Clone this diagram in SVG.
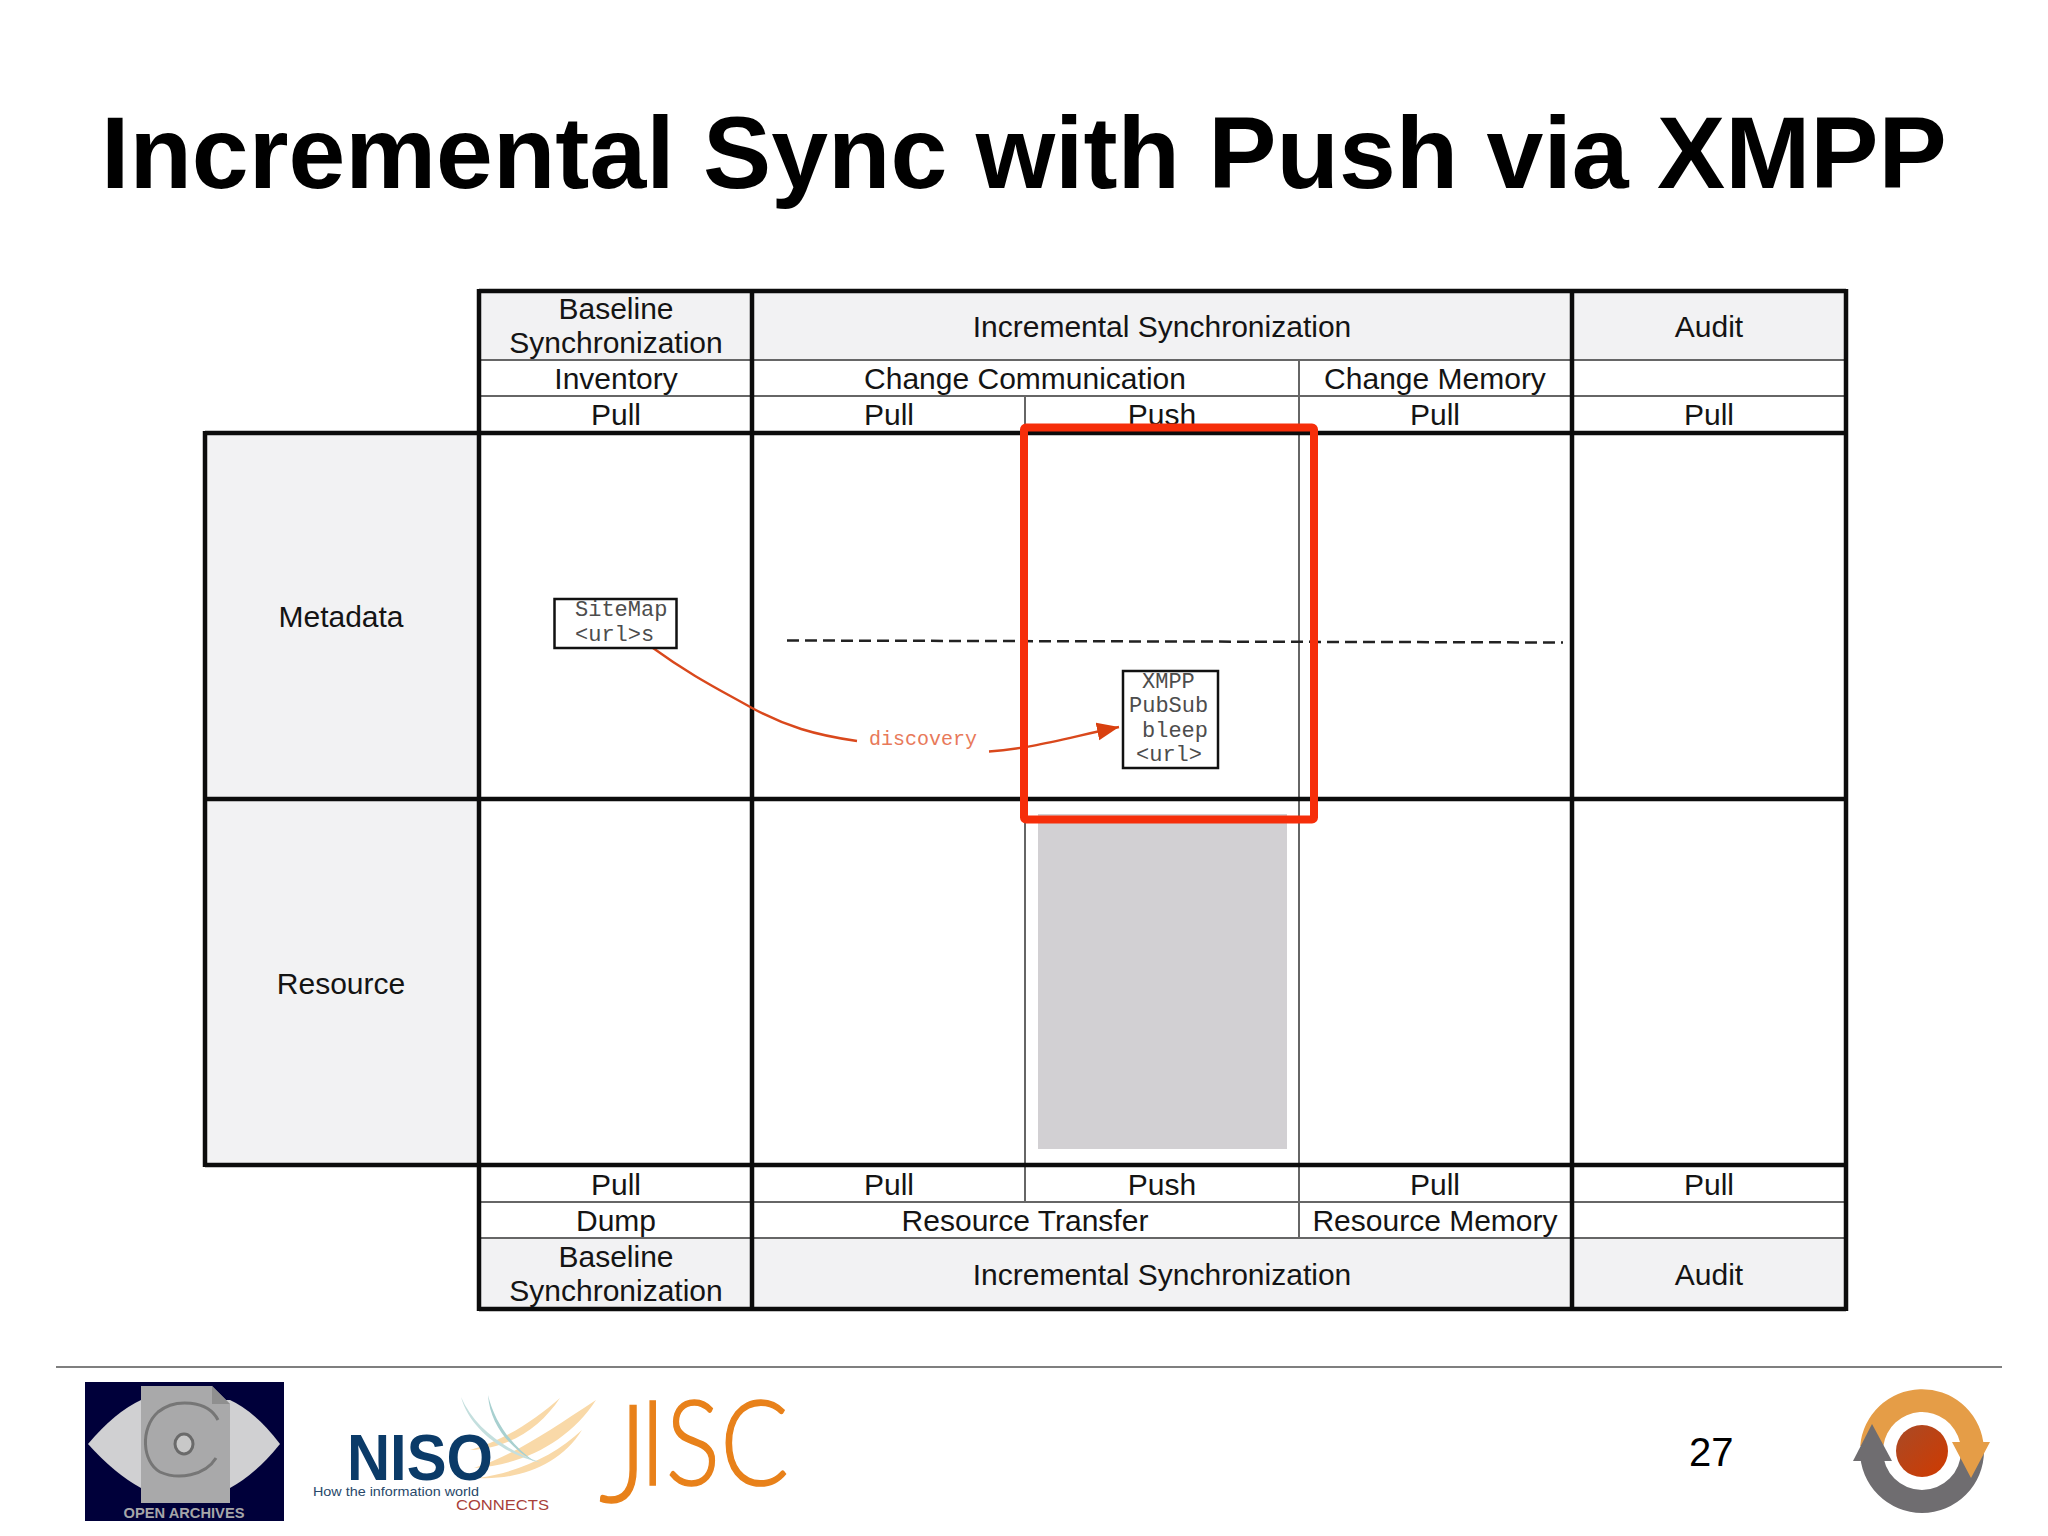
<svg xmlns="http://www.w3.org/2000/svg" width="2048" height="1536" viewBox="0 0 2048 1536">
<defs>
<style>
.t{font-family:"Liberation Sans",Arial,sans-serif;font-size:30px;fill:#141414;text-anchor:middle}
.m{font-family:"Liberation Mono","Courier New",monospace;font-size:22px;fill:#4d4d4d}
.thick{stroke:#0c0c0c;stroke-width:4.5;fill:none}
.thin{stroke:#666;stroke-width:2;fill:none}
.shade{fill:#f2f2f3}
.box{fill:#fff;stroke:#111;stroke-width:2.5}
.cur{fill:none;stroke:#d9481c;stroke-width:2.4}
</style>
<marker id="ah" markerUnits="userSpaceOnUse" markerWidth="24" markerHeight="20" refX="22" refY="10" orient="auto"><path d="M0,1 L22,10 L0,19 Z" fill="#d9400f"/></marker>
<linearGradient id="rg" x1="0" y1="0" x2="1" y2="1"><stop offset="0" stop-color="#a94a26"/><stop offset="1" stop-color="#d03a00"/></linearGradient>
</defs>
<rect width="2048" height="1536" fill="#fff"/>
<text x="101" y="188" style="font-family:'Liberation Sans',Arial,sans-serif;font-size:102.2px;font-weight:bold;fill:#000">Incremental Sync with Push via XMPP</text>

<g id="table-shading">
<rect class="shade" x="479" y="291" width="1367" height="69"/>
<rect class="shade" x="205" y="433" width="274" height="732"/>
<rect class="shade" x="479" y="1238" width="1367" height="71"/>
<rect x="1038" y="814" width="249" height="335" fill="#d2d0d3"/>
</g>
<g id="table-grid">
<path class="thin" d="M479 360H1846M479 396H1846M479 1202H1846M479 1238H1846M1025 396V1202M1299 360V1238"/>
<path class="thick" d="M479 291H1846M205 433H1846M205 799H1846M205 1165H1846M479 1309H1846M205 431V1167M479 289V1311M752 291V1309M1572 291V1309M1846 289V1311"/>
</g>
<g id="header-labels">
<text class="t" x="616" y="319">Baseline</text>
<text class="t" x="616" y="353">Synchronization</text>
<text class="t" x="1162" y="337">Incremental Synchronization</text>
<text class="t" x="1709" y="337">Audit</text>
<text class="t" x="616" y="389">Inventory</text>
<text class="t" x="1025" y="389">Change Communication</text>
<text class="t" x="1435" y="389">Change Memory</text>
<text class="t" x="616" y="425">Pull</text>
<text class="t" x="889" y="425">Pull</text>
<text class="t" x="1162" y="425">Push</text>
<text class="t" x="1435" y="425">Pull</text>
<text class="t" x="1709" y="425">Pull</text>
</g>
<g id="row-metadata"><text class="t" x="341" y="627">Metadata</text></g>
<g id="row-resource"><text class="t" x="341" y="994">Resource</text></g>
<g id="footer-labels">
<text class="t" x="616" y="1195">Pull</text>
<text class="t" x="889" y="1195">Pull</text>
<text class="t" x="1162" y="1195">Push</text>
<text class="t" x="1435" y="1195">Pull</text>
<text class="t" x="1709" y="1195">Pull</text>
<text class="t" x="616" y="1231">Dump</text>
<text class="t" x="1025" y="1231">Resource Transfer</text>
<text class="t" x="1435" y="1231">Resource Memory</text>
<text class="t" x="616" y="1267">Baseline</text>
<text class="t" x="616" y="1301">Synchronization</text>
<text class="t" x="1162" y="1285">Incremental Synchronization</text>
<text class="t" x="1709" y="1285">Audit</text>
</g>

<g id="connectors">
<path d="M787 640.5L1563 642.5" stroke="#222" stroke-width="2.5" stroke-dasharray="12 6" fill="none"/>
<path class="cur" d="M653 648C690 675 720 690 752 708C785 726 815 735 857 741"/>
<path class="cur" d="M989 751.5C1030 749 1070 737 1119 727" marker-end="url(#ah)"/>
<text x="869" y="745" style="font-family:'Liberation Mono','Courier New',monospace;font-size:20px;fill:#e8795a">discovery</text>
</g>
<g id="node-sitemap">
<rect class="box" x="554.5" y="599" width="122" height="49"/>
<text class="m" x="575" y="616">SiteMap</text>
<text class="m" x="575" y="641">&lt;url&gt;s</text>
</g>
<g id="node-xmpp">
<rect class="box" x="1123" y="671" width="95" height="97"/>
<text class="m" x="1142" y="688">XMPP</text>
<text class="m" x="1129" y="712">PubSub</text>
<text class="m" x="1142" y="737">bleep</text>
<text class="m" x="1136" y="761">&lt;url&gt;</text>
</g>
<rect id="highlight" x="1024" y="427.5" width="290" height="392" rx="2" fill="none" stroke="#f62e0a" stroke-width="8"/>

<path id="footer-rule" d="M56 1367H2002" stroke="#555" stroke-width="1.6"/>

<g id="logo-oa">
<rect x="85" y="1382" width="199" height="139" fill="#00003a"/>
<path d="M88 1444Q115 1412 141 1400H230Q256 1412 280 1444Q256 1474 230 1488H141Q115 1474 88 1444Z" fill="#d0d0d2"/>
<path d="M141 1386H212L230 1404V1503H141Z" fill="#a9a9aa"/>
<path d="M212 1386V1404H230" fill="#8f8f8f"/>
<path d="M218 1420C208 1400 175 1398 158 1412C140 1428 142 1462 160 1472C178 1480 205 1476 216 1458" fill="none" stroke="#767676" stroke-width="3"/>
<ellipse cx="184" cy="1444" rx="9" ry="10" fill="#c8c8c8" stroke="#6a6a6a" stroke-width="3"/>
<text x="184" y="1518" text-anchor="middle" textLength="121" lengthAdjust="spacingAndGlyphs" style="font-family:'Liberation Sans',sans-serif;font-size:15px;font-weight:bold;fill:#a5a5a8">OPEN ARCHIVES</text>
</g>
<g id="logo-niso">
<path d="M474 1468C515 1455 550 1430 596 1400C570 1440 525 1465 474 1468Z" fill="#f9d9a8"/>
<path d="M478 1478C520 1472 555 1455 582 1430C560 1465 520 1480 478 1478Z" fill="#f9d9a8"/>
<path d="M470 1450C505 1440 535 1420 560 1398C540 1428 510 1448 470 1450Z" fill="#f9d9a8"/>
<path d="M461 1397C475 1430 510 1452 542 1463C505 1455 470 1430 461 1397Z" fill="#c4dfde"/>
<path d="M488 1395C495 1425 515 1448 535 1462C510 1448 490 1425 488 1395Z" fill="#a8d0d0"/>
<text x="347" y="1480" textLength="146" lengthAdjust="spacingAndGlyphs" style="font-family:'Liberation Sans',sans-serif;font-size:65px;font-weight:bold;fill:#0b3b68">NISO</text>
<text x="313" y="1496" textLength="166" lengthAdjust="spacingAndGlyphs" style="font-family:'Liberation Sans',sans-serif;font-size:13px;fill:#28486a">How the information world</text>
<text x="456" y="1510" textLength="93" lengthAdjust="spacingAndGlyphs" style="font-family:'Liberation Sans',sans-serif;font-size:14px;fill:#a8403a">CONNECTS</text>
</g>
<g id="logo-jisc">
<text transform="translate(599 1485) scale(.86 1)" style="font-family:Lato,'Liberation Sans',sans-serif;font-size:118px;font-weight:300;fill:#e8811a;stroke:#e8811a;stroke-width:1.5"><tspan x="0" y="17" font-size="136">J</tspan><tspan x="47" y="0">ISC</tspan></text>
</g>
<text x="1689" y="1466" style="font-family:'Liberation Sans',Arial,sans-serif;font-size:40px;fill:#000">27</text>
<g id="logo-sync">
<path d="M1860 1451A62 62 0 0 0 1984 1451H1961A39 39 0 0 1 1883 1451Z" fill="#6f6d70"/>
<path d="M1860.2 1446A62 62 0 0 1 1983.3 1442H1990L1971 1478L1952 1442H1959.9A39 39 0 0 0 1883.3 1446Z" fill="#e59d47"/>
<path d="M1853 1461L1872 1424L1892 1461Z" fill="#6f6d70"/>
<circle cx="1922" cy="1451" r="26" fill="url(#rg)"/>
</g>
</svg>
